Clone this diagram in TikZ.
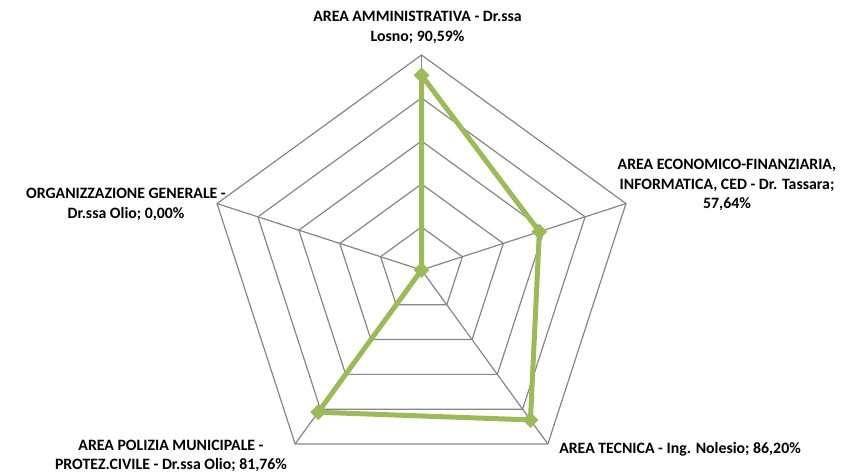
\documentclass[tikz,border=0pt]{standalone}
\usepackage{fontspec}
\setmainfont{Carlito}
\usetikzlibrary{shapes.geometric}
\definecolor{gridgray}{RGB}{134,134,134}
\definecolor{seriesgreen}{RGB}{155,187,89}
\tikzset{
  gridline/.style={draw=gridgray, line width=1.2pt},
  serieslinestyle/.style={draw=seriesgreen, line width=5pt, line join=round},
  marker/.style={diamond, fill=seriesgreen, inner sep=0pt, minimum width=16pt, minimum height=16pt},
  axislabel/.style={font=\fontsize{15.8}{19.5}\selectfont\bfseries, align=center, inner sep=0pt}
}
\begin{document}
\begin{tikzpicture}[x=1pt,y=1pt]
\useasboundingbox (0,0) rectangle (842,474);
\coordinate (c) at (421.5,204);
% grid rings
\foreach \r in {43,86,129,172,215}{
  \draw[gridline] ([shift={(c)}]90:\r) -- ([shift={(c)}]18:\r) -- ([shift={(c)}]-54:\r) -- ([shift={(c)}]-126:\r) -- ([shift={(c)}]162:\r) -- cycle;
}
% spokes
\foreach \a in {90,18,-54,-126,162}{
  \draw[gridline] (c) -- ([shift={(c)}]\a:215);
}
% data points
\coordinate (p1) at ([shift={(c)}]90:{0.9059*215});
\coordinate (p2) at ([shift={(c)}]18:{0.5764*215});
\coordinate (p3) at ([shift={(c)}]-54:{0.8620*215});
\coordinate (p4) at ([shift={(c)}]-126:{0.8176*215});
\coordinate (p5) at (c);
\draw[serieslinestyle] (p1) -- (p2) -- (p3) -- (p4) -- (p5) -- cycle;
\foreach \p in {p1,p2,p3,p4,p5}{
  \node[marker] (m\p) at (\p) {};
}
% labels
\node[axislabel] (l1) at (417.5,446.5) {AREA AMMINISTRATIVA - Dr.ssa\\Losno; 90,59\%};
\node[axislabel] (l2) at (727,289) {AREA ECONOMICO-FINANZIARIA,\\INFORMATICA, CED - Dr. Tassara;\\57,64\%};
\node[axislabel] (l3) at (680,25) {AREA TECNICA - Ing. Nolesio; 86,20\%};
\node[axislabel] (l4) at (171,18) {AREA POLIZIA MUNICIPALE -\\PROTEZ.CIVILE - Dr.ssa Olio; 81,76\%};
\node[axislabel] (l5) at (126,269.5) {ORGANIZZAZIONE GENERALE -\\Dr.ssa Olio; 0,00\%};
\end{tikzpicture}
\end{document}
